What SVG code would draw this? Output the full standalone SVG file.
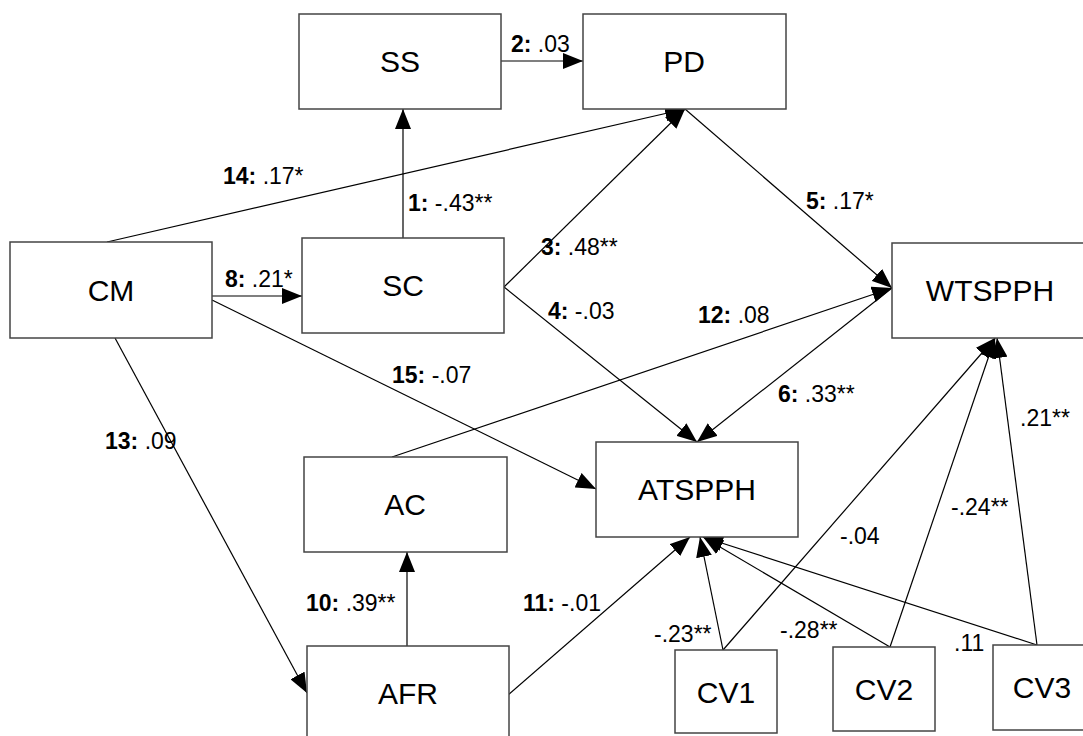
<svg xmlns="http://www.w3.org/2000/svg" width="1083" height="736" viewBox="0 0 1083 736">
<style>
.box{fill:#fff;stroke:#444;stroke-width:1.5}
.nt{font-family:"Liberation Sans",Arial,sans-serif;font-size:30px;text-anchor:middle;dominant-baseline:central;fill:#000}
.lb{font-family:"Liberation Sans",Arial,sans-serif;font-size:23px;fill:#000}
.lb tspan.b{font-weight:bold}
.c{stroke:#000;stroke-width:1.2;fill:none}
.a{marker-end:url(#ah)}
</style>
<defs>
<marker id="ah" markerUnits="userSpaceOnUse" markerWidth="20" markerHeight="16" refX="20" refY="8" orient="auto">
<path d="M0,0 L20,8 L0,16 z" fill="#000"/>
</marker>
</defs>
<rect width="1083" height="736" fill="#fff"/>
<g id="connectors">
<line class="c a" x1="403" y1="238" x2="403" y2="109"/>
<line class="c a" x1="501" y1="61" x2="583" y2="61"/>
<line class="c a" x1="504" y1="287" x2="685" y2="109"/>
<line class="c a" x1="107" y1="242" x2="685" y2="109"/>
<line class="c a" x1="685" y1="109" x2="892" y2="288"/>
<line class="c a" x1="504" y1="287" x2="697" y2="442"/>
<line class="c a" x1="892" y1="288" x2="697" y2="442"/>
<line class="c a" x1="392" y1="457" x2="892" y2="288"/>
<line class="c a" x1="212" y1="296" x2="302" y2="296"/>
<line class="c a" x1="212" y1="300" x2="596" y2="489"/>
<line class="c a" x1="115" y1="338" x2="307" y2="693"/>
<line class="c a" x1="407" y1="646" x2="407" y2="552"/>
<line class="c a" x1="508" y1="695" x2="690" y2="537"/>
<line class="c a" x1="723" y1="650" x2="700" y2="537"/>
<line class="c a" x1="890" y1="647" x2="703" y2="537"/>
<line class="c a" x1="1037" y1="645" x2="703" y2="537"/>
<line class="c a" x1="723" y1="650" x2="995" y2="338"/>
<line class="c a" x1="890" y1="647" x2="995" y2="338"/>
<line class="c a" x1="1037" y1="645" x2="997" y2="338"/>
</g>
<g id="SS"><rect class="box" x="299" y="14" width="202" height="95"/><text class="nt" x="400" y="61">SS</text></g>
<g id="PD"><rect class="box" x="583" y="14" width="203" height="95"/><text class="nt" x="684" y="61">PD</text></g>
<g id="CM"><rect class="box" x="10" y="242" width="202" height="96"/><text class="nt" x="111" y="290">CM</text></g>
<g id="SC"><rect class="box" x="302" y="238" width="202" height="95"/><text class="nt" x="403" y="285">SC</text></g>
<g id="WTSPPH"><rect class="box" x="892" y="243" width="200" height="95"/><text class="nt" x="990" y="290">WTSPPH</text></g>
<g id="ATSPPH"><rect class="box" x="596" y="442" width="202" height="95"/><text class="nt" x="697" y="489">ATSPPH</text></g>
<g id="AC"><rect class="box" x="304" y="457" width="203" height="95"/><text class="nt" x="405" y="504">AC</text></g>
<g id="AFR"><rect class="box" x="307" y="646" width="202" height="96"/><text class="nt" x="408" y="693">AFR</text></g>
<g id="CV1"><rect class="box" x="675" y="650" width="102" height="83"/><text class="nt" x="726" y="692">CV1</text></g>
<g id="CV2"><rect class="box" x="833" y="647" width="102" height="84"/><text class="nt" x="884" y="689">CV2</text></g>
<g id="CV3"><rect class="box" x="993" y="645" width="100" height="85"/><text class="nt" x="1042" y="687">CV3</text></g>
<g id="labels">
<text class="lb" x="511" y="52"><tspan class="b">2:</tspan> .03</text>
<text class="lb" x="223" y="184"><tspan class="b">14:</tspan> .17*</text>
<text class="lb" x="408" y="211"><tspan class="b">1:</tspan> -.43**</text>
<text class="lb" x="541" y="255"><tspan class="b">3:</tspan> .48**</text>
<text class="lb" x="806" y="209"><tspan class="b">5:</tspan> .17*</text>
<text class="lb" x="225" y="287"><tspan class="b">8:</tspan> .21*</text>
<text class="lb" x="548" y="319"><tspan class="b">4:</tspan> -.03</text>
<text class="lb" x="698" y="323"><tspan class="b">12:</tspan> .08</text>
<text class="lb" x="778" y="402"><tspan class="b">6:</tspan> .33**</text>
<text class="lb" x="392" y="383"><tspan class="b">15:</tspan> -.07</text>
<text class="lb" x="105" y="449"><tspan class="b">13:</tspan> .09</text>
<text class="lb" x="306" y="611"><tspan class="b">10:</tspan> .39**</text>
<text class="lb" x="523" y="611"><tspan class="b">11:</tspan> -.01</text>
<text class="lb" x="840" y="544">-.04</text>
<text class="lb" x="951" y="515">-.24**</text>
<text class="lb" x="1020" y="426">.21**</text>
<text class="lb" x="654" y="642">-.23**</text>
<text class="lb" x="780" y="638">-.28**</text>
<text class="lb" x="954" y="651">.11</text>
</g>
</svg>
